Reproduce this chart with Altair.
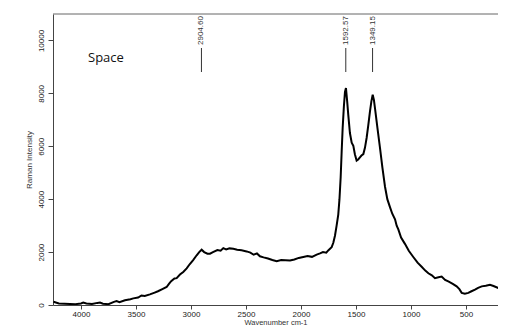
import altair as alt
import pandas as pd

wavenumber = [4250, 4200, 4150, 4100, 4050, 4000, 3979, 3950, 3900, 3850, 3827, 3800, 3750, 3700, 3676,
              3650, 3600, 3550, 3524, 3480, 3450, 3420, 3373, 3330, 3300, 3260, 3221, 3200, 3180, 3150,
              3130, 3100, 3070, 3039, 3010, 2980, 2948, 2925, 2903, 2880, 2850, 2827, 2800, 2760, 2730,
              2706, 2680, 2650, 2615, 2580, 2540, 2494, 2460, 2430, 2400, 2373, 2340, 2300, 2260, 2221,
              2180, 2140, 2100, 2060, 2020, 1979, 1940, 1900, 1857, 1827, 1800, 1770, 1752, 1736, 1721,
              1706, 1691, 1676, 1661, 1650, 1639, 1630, 1621, 1610, 1600, 1591, 1580, 1570, 1555, 1539,
              1524, 1510, 1494, 1480, 1464, 1450, 1433, 1418, 1403, 1388, 1373, 1360, 1348, 1337, 1327,
              1305, 1282, 1260, 1236, 1215, 1191, 1170, 1145, 1130, 1115, 1090, 1055, 1020, 979, 940,
              903, 870, 842, 810, 782, 750, 721, 690, 661, 620, 585, 560, 539, 510, 479,
              450, 418, 390, 357, 320, 282, 250, 206, 175, 145, 120, 100]
intensity = [120, 60, 50, 40, 30, 60, 90, 60, 40, 80, 90, 50, 30, 120, 150,
             110, 180, 220, 250, 280, 360, 340, 400, 470, 520, 600, 680, 800, 900, 1000,
             1015, 1150, 1250, 1385, 1550, 1700, 1880, 2000, 2090, 2000, 1940, 1940, 2000, 2080, 2050,
             2150, 2100, 2140, 2126, 2090, 2070, 2026, 1980, 1900, 1950, 1841, 1800, 1760, 1700, 1656,
             1700, 1690, 1681, 1720, 1780, 1815, 1850, 1820, 1904, 1950, 2000, 1980, 2063, 2126, 2185,
             2350, 2619, 3000, 3420, 4000, 4841, 5800, 6693, 7500, 8052, 8200, 7700, 7185, 6500, 6137,
             6015, 5700, 5459, 5500, 5581, 5650, 5704, 5950, 6322, 6800, 7311, 7700, 7952, 7750, 7433,
             6700, 5952, 5200, 4470, 4000, 3700, 3450, 3237, 3000, 2860, 2550, 2311, 2050, 1815, 1600,
             1444, 1300, 1200, 1120, 1015, 1050, 1074, 950, 889, 800, 704, 600, 459, 430, 459,
             520, 581, 650, 704, 730, 767, 720, 644, 500, 333, 250, 220]

peak_pos = [2904.60, 1592.57, 1349.15]
peak_text = ["2904.60", "1592.57", "1349.15"]

x_ticks = [4000, 3500, 3000, 2500, 2000, 1500, 1000, 500]
y_ticks = [0, 2000, 4000, 6000, 8000, 10000]

df = pd.DataFrame({"w": wavenumber, "i": intensity})
peaks = pd.DataFrame({"w": peak_pos, "t": peak_text})

xscale = alt.Scale(domain=[4254, 209], nice=False, zero=False)
yscale = alt.Scale(domain=[0, 11000], nice=False)

line = alt.Chart(df).mark_line(color="black", strokeWidth=2, clip=True).encode(
    x=alt.X("w:Q", scale=xscale,
            axis=alt.Axis(title="Wavenumber cm-1", values=x_ticks, format="d", grid=False,
                          labelFont="Liberation Sans", labelFontSize=8, labelColor="#222",
                          titleFont="Liberation Sans", titleFontSize=7.5, titleFontWeight="normal",
                          titleColor="#333", tickSize=4, tickColor="#444", domainColor="#444",
                          labelPadding=1, titlePadding=0)),
    y=alt.Y("i:Q", scale=yscale,
            axis=alt.Axis(title="Raman Intensity", values=y_ticks, format="d", grid=False,
                          labelAngle=270, labelAlign="center", labelBaseline="bottom",
                          labelFont="Liberation Sans", labelFontSize=8, labelColor="#222",
                          titleFont="Liberation Sans", titleFontSize=8, titleFontWeight="normal",
                          titleColor="#333", tickSize=5, tickColor="#444", domainColor="#444",
                          labelPadding=3, titlePadding=4)),
)

top_border = alt.Chart(pd.DataFrame({"a": [0]})).mark_rule(color="#666", strokeWidth=1).encode(
    x=alt.value(0), x2=alt.value(445), y=alt.value(0)
)

rules = alt.Chart(peaks).mark_rule(color="#333", strokeWidth=1).encode(
    x=alt.X("w:Q", scale=xscale),
    y=alt.value(34),
    y2=alt.value(58),
)

labels = alt.Chart(peaks).mark_text(angle=270, align="left", baseline="middle",
                                    font="Liberation Sans", fontSize=8, color="#333").encode(
    x=alt.X("w:Q", scale=xscale),
    y=alt.value(31),
    text="t:N",
)

space = alt.Chart(pd.DataFrame({"t": ["Space"]})).mark_text(
    align="left", baseline="middle", font="Open Sans", fontSize=13, color="#111"
).encode(x=alt.value(35), y=alt.value(44), text="t:N")

chart = alt.layer(top_border, line, rules, labels, space).properties(
    width=445, height=291,
    autosize=alt.AutoSizeParams(type="none"),
    padding={"left": 45, "top": 6, "right": 0, "bottom": 21},
).configure_view(strokeWidth=0)

chart.save("out.html", embed_options={"renderer": "svg", "actions": False})
